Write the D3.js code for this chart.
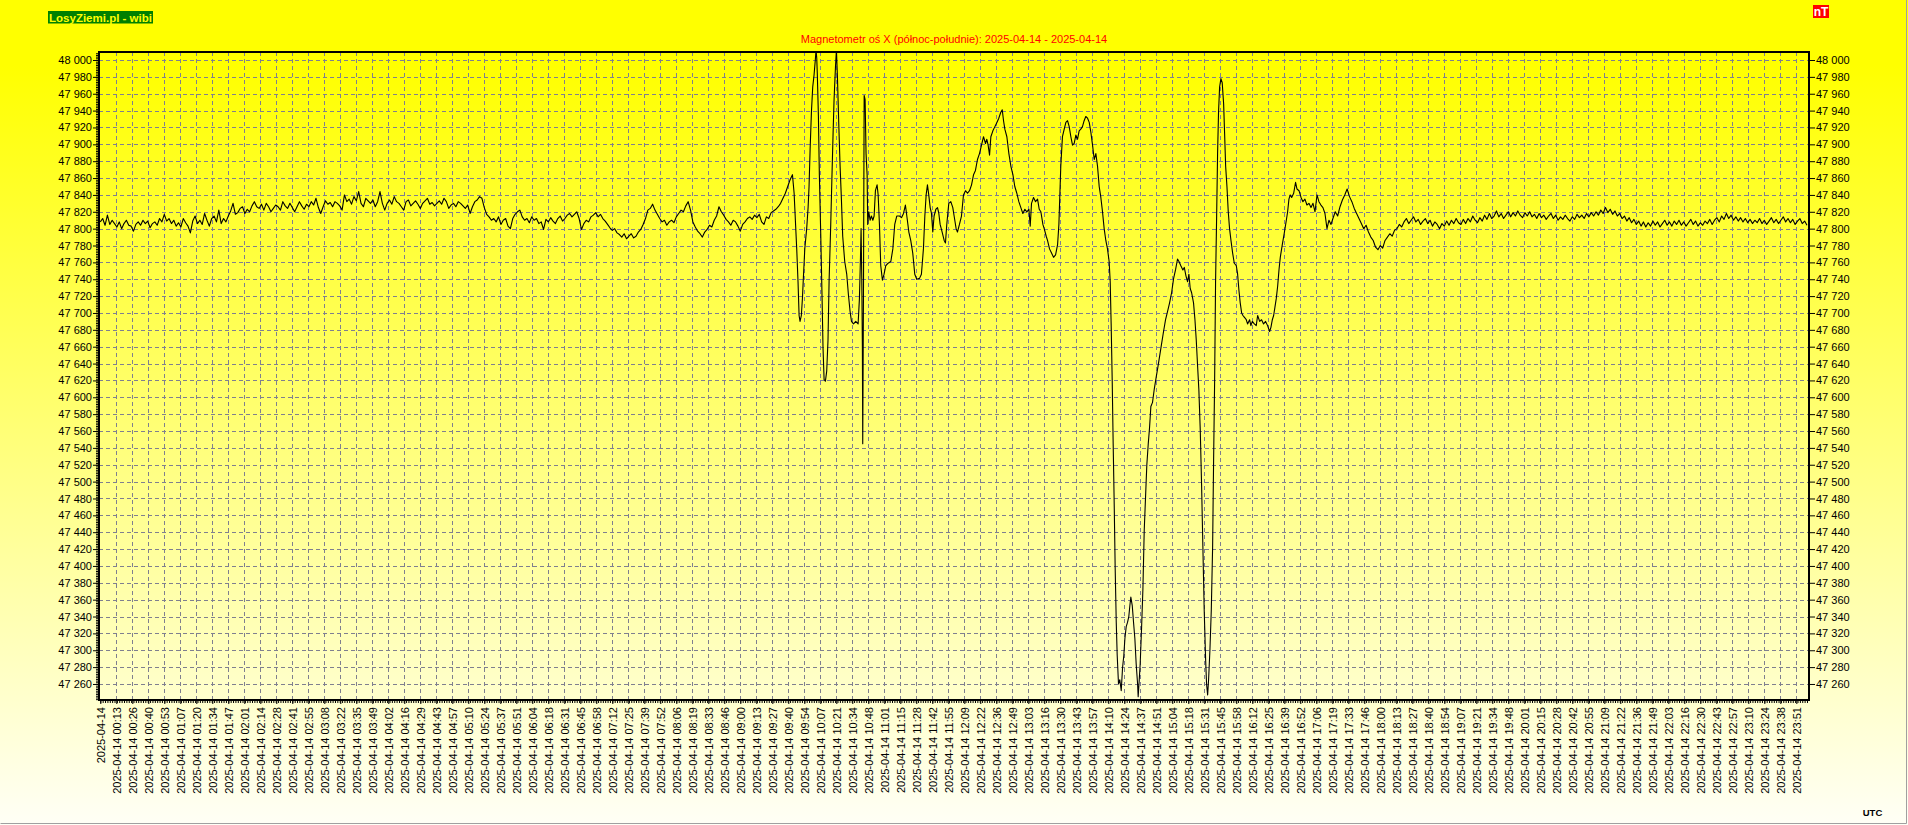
<!DOCTYPE html>
<html><head><meta charset="utf-8">
<script src="https://cdn.jsdelivr.net/npm/d3@7"></script>
<style>
html,body{margin:0;padding:0;background:#fff;overflow:hidden;}
svg{display:block;font-family:Arial,"Liberation Sans",sans-serif;}
</style></head><body>
<svg id="c" width="1908" height="825"></svg>
<script>
// ---------- DATA ----------
const chartTitle = "Magnetometr oś X (północ-południe): 2025-04-14 - 2025-04-14";
const brandLabel = "LosyZiemi.pl - wibi";
const unitLabel = "nT";
const zoneLabel = "UTC";
const dateLabel = "2025-04-14";

const yTickValues = [47260,47280,47300,47320,47340,47360,47380,47400,47420,47440,47460,47480,47500,47520,47540,47560,47580,47600,47620,47640,47660,47680,47700,47720,47740,47760,47780,47800,47820,47840,47860,47880,47900,47920,47940,47960,47980,48000];

const xTickTimes = ["","00:13","00:26","00:40","00:53","01:07","01:20","01:34","01:47","02:01","02:14","02:28","02:41","02:55","03:08","03:22","03:35","03:49","04:02","04:16","04:29","04:43","04:57","05:10","05:24","05:37","05:51","06:04","06:18","06:31","06:45","06:58","07:12","07:25","07:39","07:52","08:06","08:19","08:33","08:46","09:00","09:13","09:27","09:40","09:54","10:07","10:21","10:34","10:48","11:01","11:15","11:28","11:42","11:55","12:09","12:22","12:36","12:49","13:03","13:16","13:30","13:43","13:57","14:10","14:24","14:37","14:51","15:04","15:18","15:31","15:45","15:58","16:12","16:25","16:39","16:52","17:06","17:19","17:33","17:46","18:00","18:13","18:27","18:40","18:54","19:07","19:21","19:34","19:48","20:01","20:15","20:28","20:42","20:55","21:09","21:22","21:36","21:49","22:03","22:16","22:30","22:43","22:57","23:10","23:24","23:38","23:51"];

// quiet morning: one reading every 2 minutes from 00:00 to 09:44 (nT)
const morningStart = 0, morningStep = 2;
const morningValues = [47808,47812,47804,47816,47805,47810,47806,47802,47808,47800,47806,47810,47804,47803,47797,47805,47808,47804,47810,47806,47809,47801,47806,47808,47804,47812,47808,47817,47809,47812,47806,47810,47803,47807,47802,47812,47807,47803,47795,47809,47815,47806,47810,47805,47818,47810,47803,47812,47815,47808,47822,47806,47812,47808,47815,47821,47830,47817,47819,47824,47826,47818,47823,47820,47827,47832,47826,47824,47829,47822,47830,47826,47820,47824,47828,47826,47822,47832,47827,47824,47830,47825,47820,47826,47832,47827,47823,47829,47826,47832,47828,47836,47825,47818,47826,47833,47829,47831,47826,47832,47830,47827,47822,47840,47832,47835,47829,47838,47833,47844,47830,47826,47836,47833,47830,47834,47826,47832,47844,47830,47822,47830,47834,47829,47838,47832,47830,47826,47822,47832,47834,47827,47830,47833,47829,47824,47830,47833,47836,47829,47831,47827,47830,47833,47829,47836,47832,47824,47828,47830,47826,47832,47830,47827,47824,47828,47818,47826,47832,47834,47838,47836,47825,47817,47814,47810,47812,47808,47814,47805,47810,47812,47803,47800,47812,47817,47820,47822,47814,47810,47812,47807,47814,47810,47812,47806,47808,47799,47811,47808,47813,47809,47806,47812,47815,47809,47812,47816,47818,47814,47817,47820,47812,47799,47806,47810,47808,47814,47816,47819,47814,47817,47812,47809,47805,47801,47798,47800,47795,47793,47790,47794,47788,47791,47794,47789,47791,47796,47799,47805,47812,47822,47824,47829,47822,47817,47812,47808,47810,47804,47808,47810,47807,47814,47818,47822,47820,47827,47832,47822,47808,47802,47797,47794,47790,47796,47799,47804,47802,47810,47815,47826,47820,47816,47811,47808,47804,47810,47808,47803,47797,47805,47808,47812,47814,47811,47816,47813,47817,47808,47805,47814,47812,47819,47821,47823,47826,47830,47836,47842,47850,47858,47864];

// storm interval 09:45 - 17:18: minute of day and value (nT)
const stormMinutes = [585.4,586.8,587.6,588.7,589.6,590.4,591.5,592.4,593.2,594.4,596,597.2,598,598.9,600,601.1,602.2,603.4,603.9,604.5,605,605.9,606.7,607.9,609,609.8,610.7,611.8,612.9,614,614.9,616.3,617.2,618.3,619.1,620.3,621.1,621.9,623.1,624.2,625.3,626.4,628.1,629.8,631.2,632.6,633.8,635.5,637.4,639.4,640.5,641.4,641.9,642.5,643,643.3,643.9,644.5,645.3,646.1,647,647.5,648.4,649.5,650.6,651.8,652.9,654,655.4,656.3,657.4,658.5,659.9,661.3,662.7,664.7,667,668.7,670.3,672,674.3,676,677.7,679.3,680.5,682.2,683.8,685.5,687.2,688.9,691.2,692.8,694.5,695.7,696.8,697.9,699,700.2,701.3,702.4,703.5,705,706.4,707.5,708.6,710.3,712,713.1,714.2,715.9,717.6,719.3,720.4,722.1,723.2,724.9,726.6,728.3,730,731.7,733.4,735.1,736.8,738.4,740.1,741.8,743.5,745.2,746.9,748,749.1,750.3,751.4,753.1,754.8,756.5,758.1,759.8,761,762.1,763.2,764.9,766.6,768.3,770,771.6,773.3,775,776.7,778.4,780.1,781.8,783.5,784.6,785.7,787.4,789.1,790.8,792.2,793.6,795.3,796.4,798.1,799.2,800.9,802.6,804.3,806,807.7,808.8,810.4,811.8,813.3,814.7,816.1,817.5,818.9,820.3,821.7,823.1,824.5,825.9,827.3,828.7,830.1,831.5,833,834.4,835.8,837.2,838.6,840,841.4,842.8,844.2,845.6,847,848.4,849.8,851.2,852.1,852.9,853.8,854.6,855.5,856.3,857.2,858,859.1,860.2,861.4,862.5,863.6,864.5,865.6,866.7,867.8,868.7,869.5,870.7,871.8,872.9,874,875.2,875.7,876.6,877.4,878.5,879.7,880.8,881.9,883,884.2,885.3,886.4,887.8,889.2,890.9,892,893.7,895.4,897.1,898.8,900.5,902.2,903.9,905.6,907.2,908.9,910.1,911.7,913.4,914.6,916,917.4,918.5,919.6,920.8,922.4,923.6,924.7,925.8,926.9,928.1,929.2,930.3,931.4,932.6,933.4,934.3,935.1,936.2,937.4,938.5,939.3,940.2,941,941.9,942.7,943.5,944.4,945.5,946.6,947.8,948.6,949.5,950.6,951.7,952.8,954,955.4,956.8,958.5,959.6,960.7,961.8,963,964.1,965.2,966.9,968,969.7,970.8,972,973.7,975.3,976.5,978.2,979.8,981.5,983.2,984.9,986.6,987.7,988.9,990,991.1,992.2,993.4,994.5,995.6,997.3,999,1000.7,1001.8,1002.9,1004,1005.2,1006.9,1008.5,1009.7,1011.4,1013.1,1014.7,1016.4,1018.1,1019.8,1021.5,1023.2,1024.9,1026.6,1028.2,1029.9,1031.6,1033.3,1035,1036.7,1038.4];
const stormValues = [47842,47800,47776,47737,47697,47690,47697,47717,47741,47776,47800,47825,47850,47894,47938,47968,47982,48002,48012,48002,47982,47933,47864,47791,47717,47658,47621,47619,47631,47668,47737,47805,47855,47914,47953,47992,48012,47982,47923,47874,47835,47791,47761,47746,47722,47702,47690,47687,47690,47687,47717,47766,47800,47741,47658,47545,47717,47958,47953,47889,47864,47805,47820,47810,47815,47810,47815,47845,47852,47840,47805,47756,47739,47746,47756,47759,47761,47776,47805,47815,47815,47813,47818,47828,47815,47796,47786,47771,47746,47740,47741,47746,47776,47815,47840,47852,47840,47825,47818,47796,47815,47823,47825,47818,47805,47796,47786,47783,47805,47830,47832,47825,47815,47800,47796,47805,47815,47840,47845,47842,47845,47852,47864,47869,47882,47889,47899,47909,47901,47906,47899,47887,47909,47916,47921,47926,47931,47938,47941,47928,47918,47909,47889,47874,47864,47850,47842,47832,47825,47818,47823,47820,47823,47803,47830,47837,47832,47835,47823,47820,47805,47800,47791,47786,47776,47771,47766,47769,47781,47805,47874,47909,47918,47926,47928,47921,47909,47899,47901,47911,47906,47916,47918,47921,47928,47933,47931,47926,47914,47899,47882,47889,47874,47850,47837,47820,47800,47786,47776,47761,47737,47687,47619,47545,47471,47397,47333,47294,47260,47265,47252,47279,47294,47314,47328,47333,47340,47353,47363,47353,47333,47314,47284,47260,47245,47265,47284,47324,47373,47442,47481,47520,47545,47564,47589,47594,47609,47624,47633,47648,47663,47678,47692,47702,47712,47724,47741,47751,47764,47761,47756,47751,47754,47744,47737,47746,47729,47724,47712,47692,47668,47638,47609,47560,47496,47422,47348,47289,47260,47247,47265,47299,47348,47422,47520,47619,47737,47815,47889,47938,47968,47978,47973,47948,47914,47874,47850,47820,47800,47786,47771,47759,47756,47746,47727,47712,47700,47697,47695,47692,47687,47692,47685,47690,47687,47685,47697,47690,47692,47687,47690,47685,47678,47683,47692,47697,47707,47717,47732,47751,47766,47781,47795,47810,47820,47835,47840,47837,47842,47855,47847,47845,47837,47832,47835,47828,47830,47825,47830,47820,47840,47832,47828,47825,47818,47800,47810,47805];

// quiet evening: one reading every 2 minutes from 17:20 to 24:00 (nT)
const eveningStart = 1040, eveningStep = 2;
const eveningValues = [47812,47820,47815,47826,47834,47840,47847,47838,47832,47824,47818,47812,47806,47800,47804,47796,47790,47786,47778,47775,47780,47777,47786,47790,47794,47791,47798,47800,47805,47802,47808,47812,47806,47810,47814,47808,47811,47805,47809,47812,47806,47810,47803,47808,47805,47800,47806,47803,47809,47804,47810,47806,47812,47807,47805,47811,47806,47812,47808,47815,47810,47807,47813,47809,47816,47811,47818,47812,47815,47821,47814,47818,47812,47816,47820,47814,47819,47815,47821,47816,47813,47819,47815,47820,47814,47817,47812,47818,47813,47816,47811,47815,47818,47812,47816,47810,47814,47811,47816,47812,47809,47814,47811,47817,47813,47816,47812,47818,47814,47819,47815,47820,47816,47822,47818,47825,47819,47823,47817,47821,47815,47818,47812,47815,47809,47813,47807,47811,47805,47809,47803,47808,47802,47807,47803,47809,47804,47808,47802,47806,47810,47804,47808,47803,47809,47805,47810,47804,47808,47803,47807,47811,47805,47809,47803,47807,47804,47809,47806,47811,47805,47810,47813,47808,47815,47811,47818,47812,47816,47810,47814,47809,47813,47808,47812,47807,47811,47806,47810,47807,47812,47806,47810,47805,47809,47813,47807,47811,47806,47810,47814,47808,47812,47807,47811,47805,47809,47812,47806,47809,47804];

// ---------- CHART ----------
const W = 1908, H = 825;
const plot = {left: 99, right: 1809, top: 52, bottom: 700};
const svg = d3.select("#c");
const defs = svg.append("defs");
const grad = defs.append("linearGradient").attr("id","bg").attr("x1",0).attr("y1",0).attr("x2",0).attr("y2",1);
grad.append("stop").attr("offset","0").attr("stop-color","#ffff00");
grad.append("stop").attr("offset","0.08").attr("stop-color","#ffff00");
grad.append("stop").attr("offset","1").attr("stop-color","#fffff6");
defs.append("clipPath").attr("id","clip").append("rect")
  .attr("x",plot.left).attr("y",plot.top).attr("width",plot.right-plot.left).attr("height",plot.bottom-plot.top);

svg.append("rect").attr("width",W).attr("height",H).attr("fill","url(#bg)");
svg.append("path").attr("d",`M0.5,${H-1.5}H${W-1.5}V0`).attr("fill","none").attr("stroke","#a0a0a0").attr("stroke-width",1);

const x = d3.scaleLinear().domain([0, 1441.7]).range([100.3, 1809]);
const y = d3.scaleLinear().domain([47241, 48009.5]).range([plot.bottom, plot.top]);

const locale = d3.formatLocale({decimal:",", thousands:"\u00a0", grouping:[3], currency:["",""]});
const fmt = locale.format(",d");
const fmtY = v => fmt(v).replace(/\u00a0/g," ");

const xTickVals = xTickTimes.map((t,i) => i*13.5);
const gridColor = "#7f7f8f";

// grid
const grid = svg.append("g");
grid.selectAll("line.h").data(yTickValues).join("line")
  .attr("x1",plot.left).attr("x2",plot.right)
  .attr("y1",d=>Math.round(y(d))+0.5).attr("y2",d=>Math.round(y(d))+0.5)
  .attr("stroke",gridColor).attr("stroke-dasharray","4,3");
grid.selectAll("line.v").data(xTickVals.slice(1)).join("line")
  .attr("y1",plot.top).attr("y2",plot.bottom)
  .attr("x1",d=>Math.round(x(d))+0.5).attr("x2",d=>Math.round(x(d))+0.5)
  .attr("stroke",gridColor).attr("stroke-dasharray","4,3");

// series
const pts = [];
morningValues.forEach((v,i)=>pts.push([morningStart + i*morningStep, v]));
stormMinutes.forEach((m,i)=>pts.push([m, stormValues[i]]));
eveningValues.forEach((v,i)=>pts.push([eveningStart + i*eveningStep, v]));
const okPts = pts.filter(d => Number.isFinite(d[0]) && Number.isFinite(d[1]));
svg.append("path").datum(okPts)
  .attr("clip-path","url(#clip)")
  .attr("fill","none").attr("stroke","#000").attr("stroke-width",1.1).attr("stroke-linejoin","round")
  .attr("d", d3.line().x(d=>x(d[0])).y(d=>y(d[1])));

// minor tick combs (left and bottom)
const minorY = d3.axisLeft(y).tickValues(d3.range(47242, 48009, 2)).tickSize(2).tickFormat("");
const gMY = svg.append("g").attr("transform",`translate(${plot.left-1},0)`).call(minorY);
gMY.select(".domain").remove(); gMY.selectAll("line").attr("stroke","#000");
const minorX = d3.axisBottom(x).tickValues(d3.range(0, 1441, 2)).tickSize(2).tickFormat("");
const gMX = svg.append("g").attr("transform",`translate(0,${plot.bottom+1})`).call(minorX);
gMX.select(".domain").remove(); gMX.selectAll("line").attr("stroke","#000");

// axes
const axL = d3.axisLeft(y).tickValues(yTickValues).tickSize(6).tickPadding(1).tickFormat(fmtY);
const axR = d3.axisRight(y).tickValues(yTickValues).tickSize(6).tickPadding(1).tickFormat(fmtY);
const gL = svg.append("g").attr("transform",`translate(${plot.left},0)`).call(axL);
const gR = svg.append("g").attr("transform",`translate(${plot.right},0)`).call(axR);
[gL,gR].forEach(g=>{
  g.select(".domain").remove();
  g.selectAll("text").attr("font-size","11px").attr("fill","#000").attr("font-family","Arial, 'Liberation Sans', sans-serif");
  g.selectAll("line").attr("stroke","#000");
});

const axB = d3.axisBottom(x).tickValues(xTickVals).tickSize(4)
  .tickFormat((d,i)=> i===0 ? dateLabel : dateLabel + " " + xTickTimes[i]);
const gB = svg.append("g").attr("transform",`translate(0,${plot.bottom})`).call(axB);
gB.select(".domain").remove();
gB.selectAll("line").attr("stroke","#000");
gB.selectAll("text")
  .attr("font-size","11px").attr("fill","#000").attr("font-family","Arial, 'Liberation Sans', sans-serif")
  .attr("transform","rotate(-90)").attr("text-anchor","end")
  .attr("x",-7).attr("y",0).attr("dy","0.35em");

// plot frame
svg.append("rect").attr("x",plot.left).attr("y",plot.top)
  .attr("width",plot.right-plot.left).attr("height",plot.bottom-plot.top)
  .attr("fill","none").attr("stroke","#000").attr("stroke-width",2);

// title
svg.append("text").attr("x",(plot.left+plot.right)/2).attr("y",43).attr("text-anchor","middle")
  .attr("font-size","11px").attr("fill","#ff0000").text(chartTitle);

// brand box
const bg = svg.append("g");
bg.append("rect").attr("x",48).attr("y",11).attr("width",105).attr("height",12.5).attr("fill","#008000");
bg.append("text").attr("x",100.5).attr("y",21.5).attr("text-anchor","middle").attr("font-size","11.5px")
  .attr("font-weight","bold").attr("fill","#ffff00").text(brandLabel);
// unit box
const ub = svg.append("g");
ub.append("rect").attr("x",1813).attr("y",5).attr("width",16).attr("height",13).attr("fill","#ff0000");
ub.append("text").attr("x",1821).attr("y",16).attr("text-anchor","middle").attr("font-size","12px")
  .attr("font-weight","bold").attr("fill","#ffffff").text(unitLabel);
// UTC
svg.append("text").attr("x",1872.5).attr("y",816).attr("text-anchor","middle").attr("font-size","9.5px")
  .attr("font-weight","bold").attr("fill","#000").text(zoneLabel);
</script>
</body></html>
